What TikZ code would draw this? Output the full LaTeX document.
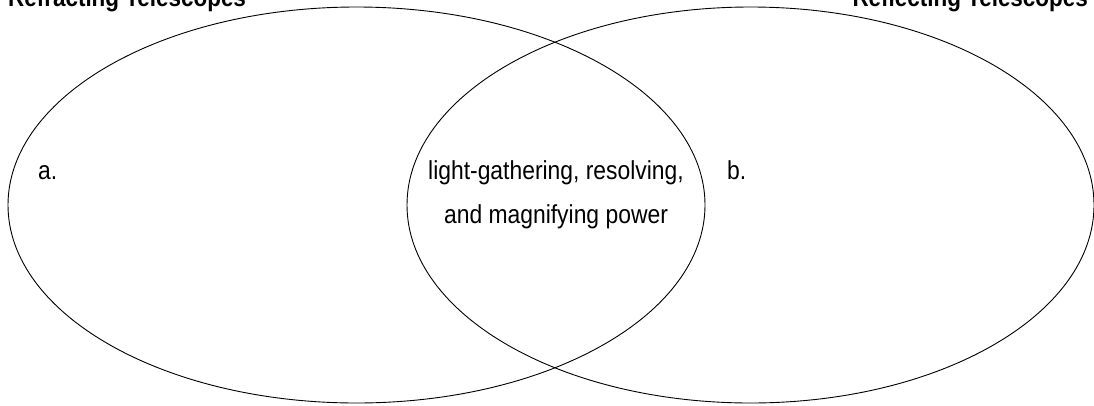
\documentclass[tikz,border=0pt]{standalone}
\usepackage{fontspec}
\setmainfont{Liberation Sans}[FakeStretch=0.88]
\usetikzlibrary{shapes.geometric}
\tikzset{
  set/.style={ellipse, draw=black, line width=0.9pt, inner sep=0pt, outer sep=0pt},
  lbl/.style={inner sep=0pt, anchor=base west, font=\fontsize{26}{30}\selectfont},
  mid/.style={inner sep=0pt, anchor=base, font=\fontsize{26}{30}\selectfont},
  ttl/.style={inner sep=0pt, font=\fontsize{25.5}{30}\selectfont\bfseries}
}
\begin{document}
\begin{tikzpicture}[x=1pt,y=-1pt]
\useasboundingbox (0,0) rectangle (1094,405);
\clip (0,0) rectangle (1094,405);
\node[set, minimum width=697pt, minimum height=396pt] (setA) at (356.5,205) {};
\node[set, minimum width=687pt, minimum height=396pt] (setB) at (750.5,205) {};
\node[ttl, anchor=base west] (tA) at (8,6) {Refracting Telescopes};
\node[ttl, anchor=base east] (tB) at (1088,6) {Reflecting Telescopes};
\node[lbl] (a) at (38,179) {a.};
\node[lbl] (b) at (727,179) {b.};
\node[mid] (m1) at (556,179) {light-gathering, resolving,};
\node[mid] (m2) at (556,223) {and magnifying power};
\end{tikzpicture}
\end{document}
